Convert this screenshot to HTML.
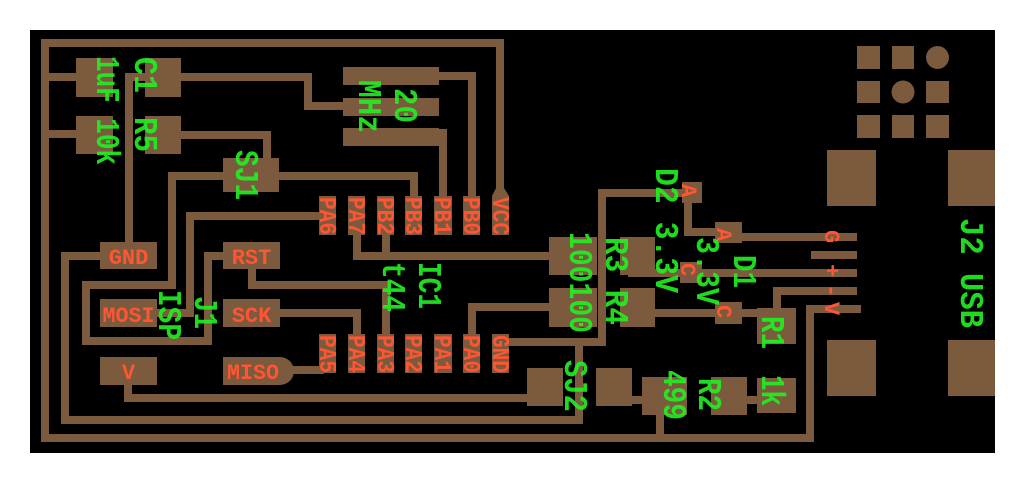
<!DOCTYPE html>
<html><head><meta charset="utf-8"><style>
html,body{margin:0;padding:0;background:#fff;}
svg{display:block;}
.t{fill:none;stroke:#7b5a3d;stroke-width:8;stroke-linejoin:miter;stroke-linecap:square;}
.p{fill:#7b5a3d;}
.g{fill:#22ee22;font-family:"Liberation Mono",monospace;font-weight:bold;font-size:33px;}
.r{fill:#ff5533;font-family:"Liberation Mono",monospace;font-weight:bold;font-size:24px;}
.rh{fill:#ff5533;font-family:"Liberation Mono",monospace;font-weight:bold;font-size:22px;}
</style></head><body>
<svg width="1024" height="483" viewBox="0 0 1024 483" xmlns="http://www.w3.org/2000/svg">
<rect x="30" y="30" width="965" height="423" fill="#000"/>
<g class="t">
<polyline points="500,200 500,43 45,43 45,438 810,438 810,309 857,309"/>
<polyline points="45,77 76,77"/>
<polyline points="45,134 76,134"/>
<polyline points="100,256 65,256 65,420 579,420 579,342 510,342"/>
<polyline points="579,342 602,342 602,193 682,193"/>
<polyline points="129,242 129,77 308,77 308,106 343,106"/>
<polyline points="181,135 267,135 267,158"/>
<polyline points="223,176 172,176 172,285 86,285 86,341 208,341 208,256 223,256"/>
<polyline points="279,176 414,176 414,196"/>
<polyline points="319,216 190,216 190,313 157,313"/>
<polyline points="252,269 252,285 386,285 386,334"/>
<polyline points="280,313 357,313 357,334"/>
<polyline points="293,370 320,370"/>
<polyline points="128,385 128,398 527,398"/>
<polyline points="357,235 357,256 549,256"/>
<polyline points="386,235 386,256"/>
<polyline points="472,334 472,307 549,307"/>
<polyline points="439,76 472,76 472,196"/>
<polyline points="443,133 443,196"/>
<polyline points="688,203 688,232 715,232"/>
<polyline points="742,237 853,237"/>
<polyline points="815,255 853,255"/>
<polyline points="632,273 853,273"/>
<polyline points="853,291 777,291 777,308"/>
<polyline points="655,313 757,313"/>
<polyline points="632,400 642,400"/>
<polyline points="747,400 757,400"/>
<polyline points="660,415 660,438"/>
</g>
<g class="p">
<rect x="76" y="58" width="37" height="39"/><rect x="145" y="58" width="36" height="39"/>
<rect x="76" y="116" width="37" height="38"/><rect x="145" y="116" width="36" height="38"/>
<rect x="343" y="67" width="96" height="18"/><rect x="343" y="98" width="96" height="18"/><rect x="343" y="128" width="96" height="18"/>
<rect x="223" y="158" width="56" height="34"/>
<rect x="100" y="242" width="57" height="27"/><rect x="223" y="242" width="57" height="27"/>
<rect x="100" y="299" width="57" height="28"/><rect x="223" y="299" width="57" height="28"/>
<rect x="100" y="357" width="57" height="28"/>
<path d="M223,357 H280 A14,14 0 0 1 280,385 H223 Z"/>
<path d="M492,196 L496,188 L500,184 L504,188 L509,196 Z"/>
<rect x="549" y="237" width="48" height="38"/><rect x="620" y="237" width="35" height="38"/>
<rect x="549" y="288" width="48" height="39"/><rect x="620" y="288" width="35" height="39"/>
<rect x="682" y="182" width="20" height="21"/><rect x="680" y="262" width="22" height="21"/>
<rect x="715" y="222" width="27" height="21"/><rect x="715" y="302" width="27" height="22"/>
<rect x="757" y="308" width="39" height="36"/>
<rect x="527" y="368" width="36" height="38"/><rect x="596" y="368" width="36" height="38"/>
<rect x="642" y="377" width="45" height="38"/><rect x="711" y="377" width="36" height="38"/>
<rect x="757" y="378" width="39" height="35"/>
<rect x="827" y="150" width="49" height="56"/><rect x="948" y="150" width="47" height="56"/>
<rect x="827" y="340" width="49" height="56"/><rect x="948" y="340" width="47" height="56"/>
<rect x="857" y="46" width="23" height="23"/><rect x="892" y="46" width="22" height="23"/><circle cx="937.5" cy="57.5" r="11.5"/>
<rect x="857" y="81" width="23" height="22"/><circle cx="903" cy="92" r="11.5"/><rect x="926" y="81" width="23" height="22"/>
<rect x="857" y="115" width="23" height="23"/><rect x="892" y="115" width="22" height="23"/><rect x="926" y="115" width="23" height="23"/>
<rect x="319" y="196" width="17" height="39"/><rect x="348" y="196" width="17" height="39"/><rect x="377" y="196" width="17" height="39"/><rect x="405" y="196" width="17" height="39"/><rect x="434" y="196" width="18" height="39"/><rect x="463" y="196" width="17" height="39"/><rect x="492" y="196" width="17" height="39"/>
<rect x="319" y="334" width="17" height="39"/><rect x="348" y="334" width="17" height="39"/><rect x="377" y="334" width="17" height="39"/><rect x="405" y="334" width="17" height="39"/><rect x="434" y="334" width="18" height="39"/><rect x="463" y="334" width="17" height="39"/><rect x="492" y="334" width="17" height="39"/>
</g>
<g class="r">
<text transform="translate(320,197) rotate(90)" textLength="38" lengthAdjust="spacingAndGlyphs">PA6</text>
<text transform="translate(349,197) rotate(90)" textLength="38" lengthAdjust="spacingAndGlyphs">PA7</text>
<text transform="translate(378,197) rotate(90)" textLength="38" lengthAdjust="spacingAndGlyphs">PB2</text>
<text transform="translate(406,197) rotate(90)" textLength="38" lengthAdjust="spacingAndGlyphs">PB3</text>
<text transform="translate(435,197) rotate(90)" textLength="38" lengthAdjust="spacingAndGlyphs">PB1</text>
<text transform="translate(464,197) rotate(90)" textLength="38" lengthAdjust="spacingAndGlyphs">PB0</text>
<text transform="translate(493,197) rotate(90)" textLength="38" lengthAdjust="spacingAndGlyphs">VCC</text>
<text transform="translate(320,335) rotate(90)" textLength="38" lengthAdjust="spacingAndGlyphs">PA5</text>
<text transform="translate(349,335) rotate(90)" textLength="38" lengthAdjust="spacingAndGlyphs">PA4</text>
<text transform="translate(378,335) rotate(90)" textLength="38" lengthAdjust="spacingAndGlyphs">PA3</text>
<text transform="translate(406,335) rotate(90)" textLength="38" lengthAdjust="spacingAndGlyphs">PA2</text>
<text transform="translate(435,335) rotate(90)" textLength="38" lengthAdjust="spacingAndGlyphs">PA1</text>
<text transform="translate(464,335) rotate(90)" textLength="38" lengthAdjust="spacingAndGlyphs">PA0</text>
<text transform="translate(493,335) rotate(90)" textLength="38" lengthAdjust="spacingAndGlyphs">GND</text>
</g>
<g class="r" style="font-size:22px">
<text transform="translate(682,184) rotate(90)">A</text>
<text transform="translate(717,228) rotate(90)">A</text>
<text transform="translate(681,263) rotate(90)">C</text>
<text transform="translate(717,305) rotate(90)">C</text>
<text transform="translate(825,230) rotate(90)">G</text>
<text transform="translate(825,264) rotate(90)">+</text>
<text transform="translate(825,284) rotate(90)">-</text>
<text transform="translate(825,302) rotate(90)">V</text>
</g>
<g class="rh" text-anchor="middle">
<text x="128.5" y="264">GND</text>
<text x="251.5" y="264">RST</text>
<text x="128.5" y="322" textLength="52" lengthAdjust="spacingAndGlyphs">MOSI</text>
<text x="251.5" y="322">SCK</text>
<text x="128.5" y="379">V</text>
<text x="253" y="379" textLength="52" lengthAdjust="spacingAndGlyphs">MISO</text>
</g>
<g class="g" fill-opacity="0.92">
<text transform="translate(135,57) rotate(90)" textLength="36" lengthAdjust="spacingAndGlyphs">C1</text>
<text transform="translate(97,56) rotate(90)" textLength="109" lengthAdjust="spacingAndGlyphs">1uF 10k</text>
<text transform="translate(135,117) rotate(90)" textLength="35" lengthAdjust="spacingAndGlyphs">R5</text>
<text transform="translate(359,80) rotate(90)" textLength="53" lengthAdjust="spacingAndGlyphs">MHz</text>
<text transform="translate(395,88) rotate(90)" textLength="35" lengthAdjust="spacingAndGlyphs">20</text>
<text transform="translate(236,150) rotate(90)" textLength="50" lengthAdjust="spacingAndGlyphs">SJ1</text>
<text transform="translate(159,290) rotate(90)" textLength="50" lengthAdjust="spacingAndGlyphs">ISP</text>
<text transform="translate(195,296) rotate(90)" textLength="33" lengthAdjust="spacingAndGlyphs">J1</text>
<text transform="translate(383,262) rotate(90)" textLength="50" lengthAdjust="spacingAndGlyphs">t44</text>
<text transform="translate(419,262) rotate(90)" textLength="47" lengthAdjust="spacingAndGlyphs">IC1</text>
<text transform="translate(656,168) rotate(90)" textLength="125" lengthAdjust="spacingAndGlyphs">D2 3.3V</text>
<text transform="translate(606,237) rotate(90)" textLength="88" lengthAdjust="spacingAndGlyphs">R3 R4</text>
<text transform="translate(570,232) rotate(90)" textLength="101" lengthAdjust="spacingAndGlyphs">100100</text>
<text transform="translate(697,237) rotate(90)" textLength="68" lengthAdjust="spacingAndGlyphs">3.3V</text>
<text transform="translate(734,255) rotate(90)" textLength="33" lengthAdjust="spacingAndGlyphs">D1</text>
<text transform="translate(762,316) rotate(90)" textLength="33" lengthAdjust="spacingAndGlyphs">R1</text>
<text transform="translate(762,375) rotate(90)" textLength="31" lengthAdjust="spacingAndGlyphs">1k</text>
<text transform="translate(565,360) rotate(90)" textLength="52" lengthAdjust="spacingAndGlyphs">SJ2</text>
<text transform="translate(664,370) rotate(90)" textLength="50" lengthAdjust="spacingAndGlyphs">499</text>
<text transform="translate(699,378) rotate(90)" textLength="33" lengthAdjust="spacingAndGlyphs">R2</text>
<text transform="translate(961,218) rotate(90)" textLength="110" lengthAdjust="spacingAndGlyphs">J2 USB</text>
</g>
</svg>
</body></html>
